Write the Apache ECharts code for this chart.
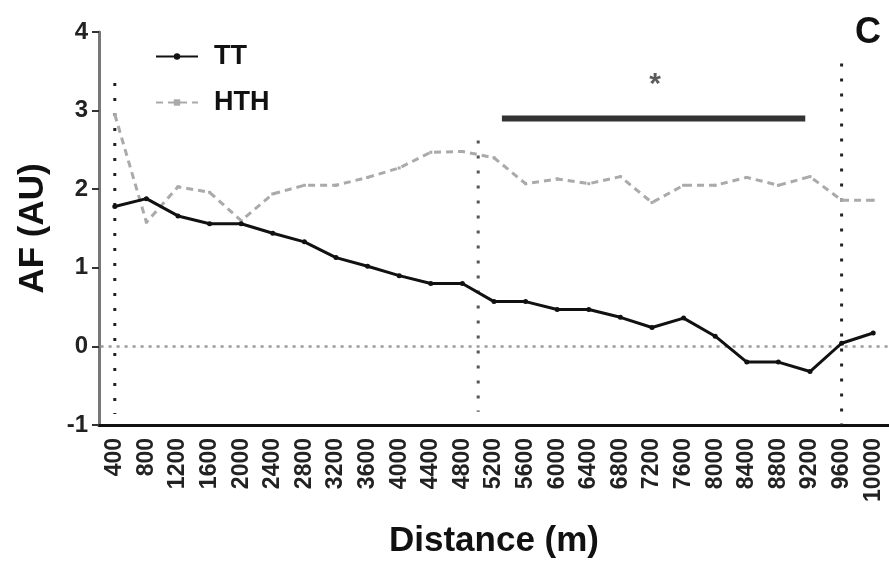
<!DOCTYPE html>
<html>
<head>
<meta charset="utf-8">
<script src="https://cdn.jsdelivr.net/npm/echarts@6/dist/echarts.min.js"></script>
<style>html,body{margin:0;padding:0;background:#fff}#c{width:889px;height:564px}</style>
</head>
<body>
<div id="c"></div>
<script>
var categories = ['400','800','1200','1600','2000','2400','2800','3200','3600','4000','4400','4800','5200','5600','6000','6400','6800','7200','7600','8000','8400','8800','9200','9600','10000'];
var ttValues = [1.78,1.88,1.66,1.56,1.56,1.44,1.33,1.13,1.02,0.90,0.80,0.80,0.57,0.57,0.47,0.47,0.37,0.24,0.36,0.13,-0.20,-0.20,-0.32,0.04,0.17];
var hthValues = [2.95,1.58,2.03,1.96,1.60,1.94,2.05,2.05,2.15,2.27,2.47,2.48,2.40,2.07,2.13,2.07,2.16,1.83,2.05,2.05,2.15,2.05,2.16,1.86,1.86];
var yTicks = [-1,0,1,2,3,4];
// annotation positions in category-index units
var vLine1 = [[0,3.35],[0,-0.86]];
var vLine2 = [[11.5,2.62],[11.5,-0.83]];
var vLine3 = [[23,3.6],[23,-1.0]];
var sigBar = [[12.25,2.9],[21.85,2.9]];
var sigStar = [[17.1,3.43]];
var zeroLine = [[-0.45,0],[24.5,0]];

var FONT = '"Liberation Sans", Arial, sans-serif';
var chart = echarts.init(document.getElementById('c'), null, {renderer:'canvas'});
function dotted(data, color, dash, width){
  return {type:'line', xAxisIndex:1, data:data, symbol:'none', silent:true, z:1,
    lineStyle:{color:color, width:width, type:dash}};
}
chart.setOption({
  animation:false,
  backgroundColor:'#fff',
  grid:{left:99, right:0, top:32, bottom:139, containLabel:false},
  legend:{
    orient:'vertical', left:150, top:38, itemWidth:42, itemHeight:8, itemGap:19,
    data:['TT','HTH'],
    textStyle:{fontFamily:FONT, fontWeight:'bold', fontSize:27, color:'#111', padding:[0,0,0,11]}
  },
  title:{text:'C', right:3, top:10, textStyle:{fontFamily:FONT, fontWeight:'bold', fontSize:36, color:'#111'}},
  xAxis:[{
    type:'category', data:categories, boundaryGap:true,
    axisLine:{onZero:false, lineStyle:{color:'#111', width:3}},
    axisTick:{alignWithLabel:true, length:8, lineStyle:{color:'#222', width:2}},
    axisLabel:{rotate:90, interval:0, fontFamily:FONT, fontWeight:'bold', fontSize:23, color:'#222', margin:13},
    name:'Distance (m)', nameLocation:'middle', nameGap:99,
    nameTextStyle:{fontFamily:FONT, fontWeight:'bold', fontSize:35, color:'#111'}
  },{
    type:'value', min:-0.5, max:24.5, show:false
  }],
  yAxis:{
    type:'value', min:yTicks[0], max:yTicks[yTicks.length-1], interval:1,
    splitLine:{show:false},
    axisLine:{show:true, onZero:false, lineStyle:{color:'#777', width:3}},
    axisTick:{show:true, length:7, lineStyle:{color:'#333', width:2}},
    axisLabel:{fontFamily:FONT, fontWeight:'bold', fontSize:24, color:'#222', margin:11},
    name:'AF (AU)', nameLocation:'middle', nameGap:48,
    nameTextStyle:{fontFamily:FONT, fontWeight:'bold', fontSize:35, color:'#111'}
  },
  series:[
    dotted(zeroLine, '#999', [3,5], 2.5),
    dotted(vLine1, '#222', [3,12], 3),
    dotted(vLine2, '#555', [3,12], 3),
    dotted(vLine3, '#222', [3,12], 3),
    {type:'line', xAxisIndex:1, data:sigBar, symbol:'none', silent:true, z:3,
      lineStyle:{color:'#333', width:6}},
    {type:'scatter', xAxisIndex:1, data:sigStar, symbolSize:0, silent:true,
      label:{show:true, formatter:'*', position:'inside', fontFamily:FONT, fontWeight:'bold', fontSize:30, color:'#333', offset:[0,8]}},
    {name:'HTH', type:'line', data:hthValues, symbol:'rect', symbolSize:3, z:4,
      itemStyle:{color:'#aaa'}, lineStyle:{color:'#aaa', width:3, type:[7,5]}},
    {name:'TT', type:'line', data:ttValues, symbol:'circle', symbolSize:5, z:5,
      itemStyle:{color:'#111'}, lineStyle:{color:'#111', width:3}}
  ]
});
</script>
</body>
</html>
